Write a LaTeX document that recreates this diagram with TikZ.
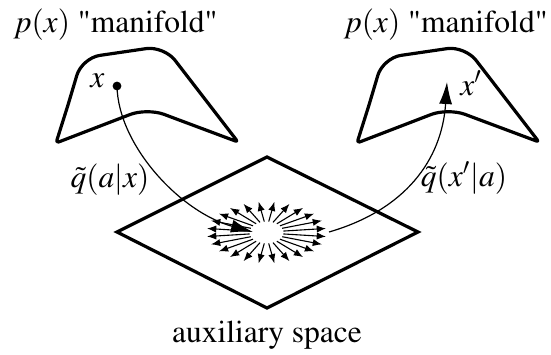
\documentclass[tikz,border=0pt]{standalone}
\usepackage[T1]{fontenc}
\usepackage{mathptmx}
\usetikzlibrary{arrows.meta}

\begin{document}
\begin{tikzpicture}[
    x=0.5pt, y=-0.5pt,
    font=\fontsize{15.75}{18}\selectfont,
    manifold/.style={line width=1.6pt, line join=round},
    plane/.style={line width=1.6pt, line join=miter},
    radial/.style={line width=0.55pt, -{Latex[length=4.6pt, width=3.6pt]}},
    flow/.style={line width=0.6pt, -{Latex[length=11pt, width=6.5pt]}},
    dot/.style={circle, fill=black, minimum size=4.4pt, inner sep=0pt},
    lbl/.style={inner sep=0pt},
  ]
  \useasboundingbox (0,0) rectangle (551,354);

  % the two manifolds
  \foreach \dx in {0,301} {
    \draw[manifold, shift={(\dx,0)}] (68,105) [rounded corners=9pt] -- (82,58) -- (164,46)
      [rounded corners=1.5pt] -- (238,142) [rounded corners=9pt] -- (147,108)
      [rounded corners=1.5pt] -- (56,143) -- cycle;
  }

  % auxiliary plane
  \draw[plane] (117,232) -- (267,157) -- (418,232) -- (267,308) -- cycle;
  \coordinate (aux) at (266.5,232.5);
  \foreach \t in {7.5,22.5,...,352.5}
    \draw[radial, shift={(aux)}] (\t:17 and 11) -- (\t:60 and 31);

  % encoder / decoder
  \node[dot] (xpt) at (117,86) {};
  \coordinate (xin) at (253,232);
  \coordinate (xout) at (329,232);
  \coordinate (xnew) at (447,82);
  \draw[flow] (xpt.center) .. controls (118,145) and (180,212) .. (xin);
  \draw[flow] (xout) .. controls (405,210) and (442,160) .. (xnew);

  % labels
  \node[lbl, anchor=base west] (ptop) at (13,32) {$p(x)$ \textquotedbl manifold\textquotedbl};
  \node[lbl, anchor=base east] (ptopr) at (548,32) {$p(x)$ \textquotedbl manifold\textquotedbl};
  \node[lbl, anchor=base west] (xlbl) at (90,87) {$x$};
  \node[lbl, anchor=base west] (xplbl) at (460,95) {$x'$};
  \node[lbl, anchor=base] (qenc) at (110,187) {$\tilde{q}(a|x)$};
  \node[lbl, anchor=base] (qdec) at (464,186) {$\tilde{q}(x'|a)$};
  \node[lbl, anchor=base] (auxlbl) at (267,342) {auxiliary space};
\end{tikzpicture}
\end{document}
